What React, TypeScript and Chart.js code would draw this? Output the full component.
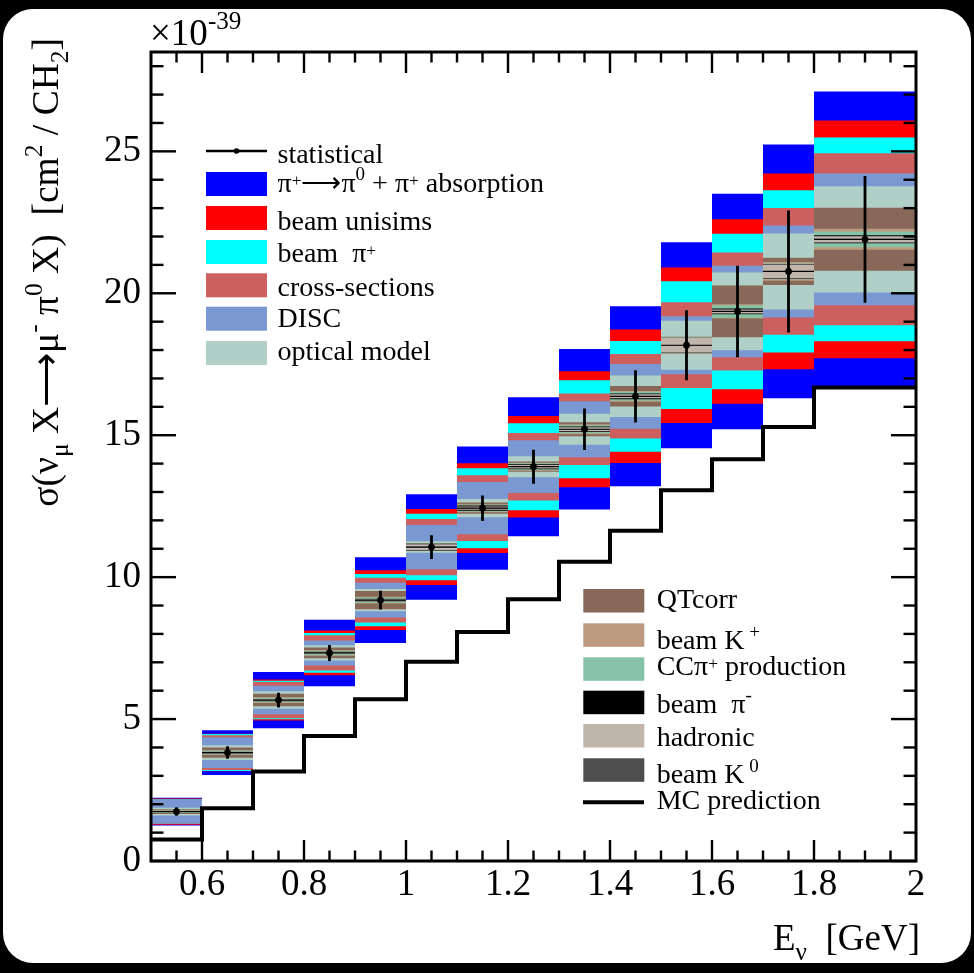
import React, { useEffect, useRef } from "react";
import { Chart, registerables } from "chart.js";

Chart.register(...registerables);

// ---------------- data ----------------
const binEdges = [0.5, 0.6, 0.7, 0.8, 0.9, 1.0, 1.1, 1.2, 1.3, 1.4, 1.5, 1.6, 1.7, 1.8, 2.0];
const crossSection = [1.74, 3.82, 5.67, 7.33, 9.19, 11.06, 12.43, 13.89, 15.21, 16.37, 18.17, 19.36, 20.77, 21.9];
const statError = [0.15, 0.22, 0.26, 0.28, 0.33, 0.42, 0.45, 0.6, 0.73, 0.92, 1.23, 1.61, 2.15, 2.23];
const mcPrediction = [0.76, 1.86, 3.15, 4.4, 5.7, 7.02, 8.07, 9.22, 10.54, 11.63, 13.06, 14.15, 15.29, 16.68];

// cumulative systematic half-widths (x1e-39), outermost first
const errPiAbsorption = [0.49, 0.79, 0.99, 1.17, 1.51, 1.86, 2.17, 2.45, 2.83, 3.17, 3.63, 4.15, 4.47, 5.21];
const errBeamUnisims = [0.46, 0.66, 0.72, 0.79, 1.05, 1.34, 1.58, 1.79, 2.04, 2.35, 2.74, 3.25, 3.45, 4.19];
const errBeamPiPlus = [0.44, 0.65, 0.68, 0.7, 0.92, 1.17, 1.41, 1.53, 1.73, 1.95, 2.25, 2.74, 2.86, 3.59];
const errCrossSections = [0.43, 0.61, 0.64, 0.62, 0.79, 0.99, 1.16, 1.19, 1.26, 1.49, 1.51, 2.08, 2.23, 3.03];
const errDISC = [0.42, 0.54, 0.5, 0.44, 0.61, 0.78, 0.92, 0.93, 0.99, 1.14, 1.02, 1.61, 1.62, 2.32];
const errOpticalModel = [0.14, 0.26, 0.31, 0.27, 0.39, 0.2, 0.32, 0.37, 0.55, 0.73, 0.86, 1.37, 1.34, 1.87];
const errQTcorr = [0.08, 0.18, 0.22, 0.19, 0.32, 0.14, 0.2, 0.18, 0.25, 0.36, 0.3, 0.91, 0.48, 1.11];
const errBeamKPlus = [0.05, 0.08, 0.1, 0.1, 0.12, 0.13, 0.14, 0.14, 0.18, 0.19, 0.29, 0.25, 0.33, 0.37];
const errCCPiPlus = [0.04, 0.07, 0.08, 0.08, 0.1, 0.125, 0.12, 0.12, 0.14, 0.16, 0.28, 0.22, 0.28, 0.28];
const errBeamPiMinus = [0.015, 0.03, 0.04, 0.04, 0.045, 0.12, 0.09, 0.09, 0.1, 0.1, 0.265, 0.1, 0.26, 0.14];
const errHadronic = [0.02, 0.035, 0.045, 0.045, 0.05, 0.1, 0.06, 0.06, 0.07, 0.07, 0.26, 0.07, 0.24, 0.11];
const errBeamK0 = [0.01, 0.01, 0.01, 0.01, 0.01, 0.01, 0.01, 0.01, 0.01, 0.01, 0.01, 0.01, 0.01, 0.02];

const xTickValues = [0.6, 0.8, 1.0, 1.2, 1.4, 1.6, 1.8, 2.0];
const xTickLabels = ["0.6", "0.8", "1", "1.2", "1.4", "1.6", "1.8", "2"];
const yTickValues = [0, 5, 10, 15, 20, 25];
const yTickLabels = ["0", "5", "10", "15", "20", "25"];

const bandLayers = [
  { name: "π+→π0 + π+ absorption", color: "#0000ff", err: errPiAbsorption },
  { name: "beam unisims", color: "#ff0000", err: errBeamUnisims },
  { name: "beam π+", color: "#00ffff", err: errBeamPiPlus },
  { name: "cross-sections", color: "#cd5f5f", err: errCrossSections },
  { name: "DISC", color: "#7a99d2", err: errDISC },
  { name: "optical model", color: "#b0cfc6", err: errOpticalModel },
  { name: "QTcorr", color: "#886959", err: errQTcorr },
  { name: "beam K+", color: "#be9b80", err: errBeamKPlus },
  { name: "CCπ+ production", color: "#86c2a6", err: errCCPiPlus },
  { name: "beam π-", color: "#000000", err: errBeamPiMinus },
  { name: "hadronic", color: "#c0b6ac", err: errHadronic },
  { name: "beam K0", color: "#4d4d4d", err: errBeamK0 },
];

const FONT = "'Liberation Serif', 'Times New Roman', serif";

function stepPoints(values: number[]) {
  return binEdges.map((e, i) => ({ x: e, y: values[Math.min(i, values.length - 1)] }));
}

function buildDatasets() {
  const ds: any[] = [];
  const centers = binEdges.slice(0, -1).map((lo, i) => (lo + binEdges[i + 1]) / 2);

  const statV: any[] = [];
  const statH: any[] = [];
  crossSection.forEach((v, i) => {
    statV.push({ x: centers[i], y: v - statError[i] });
    statV.push({ x: centers[i], y: v + statError[i] });
    statV.push({ x: centers[i], y: null });
    statH.push({ x: binEdges[i], y: v });
    statH.push({ x: binEdges[i + 1], y: v });
    statH.push({ x: binEdges[i + 1], y: null });
  });
  ds.push({
    label: "statistical",
    data: statV,
    borderColor: "#000",
    borderWidth: 2.8,
    pointRadius: 0,
    spanGaps: false,
    fill: false,
    order: 0,
  });
  ds.push({
    label: "statistical (bin)",
    data: statH,
    borderColor: "#000",
    borderWidth: 1.2,
    pointRadius: 0,
    spanGaps: false,
    fill: false,
    order: 0,
  });
  ds.push({
    label: "data",
    data: crossSection.map((v, i) => ({ x: centers[i], y: v })),
    showLine: false,
    pointRadius: 3.4,
    pointBackgroundColor: "#000",
    pointBorderWidth: 0,
    fill: false,
    order: 0,
  });
  ds.push({
    label: "MC prediction",
    data: stepPoints(mcPrediction),
    stepped: "before",
    borderColor: "#000",
    borderWidth: 4,
    pointRadius: 0,
    fill: false,
    order: 1,
  });

  bandLayers.forEach((layer, k) => {
    const lowerIndex = ds.length;
    ds.push({
      label: layer.name + " low",
      data: stepPoints(crossSection.map((v, i) => v - layer.err[i])),
      stepped: "before",
      borderColor: "rgba(0,0,0,0)",
      borderWidth: 0,
      pointRadius: 0,
      fill: false,
      order: 100 - k,
    });
    ds.push({
      label: layer.name,
      data: stepPoints(crossSection.map((v, i) => v + layer.err[i])),
      stepped: "before",
      borderColor: "rgba(0,0,0,0)",
      borderWidth: 0,
      pointRadius: 0,
      fill: lowerIndex,
      backgroundColor: layer.color,
      order: 100 - k,
    });
  });
  return ds;
}

const frameTicksPlugin = {
  id: "frameTicks",
  afterDraw(chart: any) {
    const { ctx, chartArea: a, scales } = chart;
    const xs = scales.x;
    const ys = scales.y;
    ctx.save();
    ctx.strokeStyle = "#000";
    ctx.lineCap = "butt";
    ctx.lineWidth = 2.4;
    const seg = (x1: number, y1: number, x2: number, y2: number) => {
      ctx.beginPath();
      ctx.moveTo(x1, y1);
      ctx.lineTo(x2, y2);
      ctx.stroke();
    };
    for (let i = 0; i <= 28; i++) {
      const py = ys.getPixelForValue(i);
      const len = i % 5 === 0 ? 25 : 12.5;
      seg(a.left, py, a.left + len, py);
      seg(a.right, py, a.right - len, py);
    }
    for (let i = 1; i < 30; i++) {
      const px = xs.getPixelForValue(0.5 + i * 0.05);
      const len = i % 4 === 2 ? 21 : 10.5;
      seg(px, a.bottom, px, a.bottom - len);
      seg(px, a.top, px, a.top + len);
    }
    ctx.lineWidth = 3;
    ctx.strokeRect(a.left, a.top, a.right - a.left, a.bottom - a.top);
    ctx.restore();
  },
};

type Kind = "n" | "sup" | "sub" | "sm";
type Part = [string, Kind];

function Rich(props: {
  x: number;
  y: number;
  size: number;
  parts: Part[];
  anchor?: string;
  transform?: string;
}) {
  const { x, y, size, parts, anchor, transform } = props;
  let cur = 0;
  const spans = parts.map(([t, k], i) => {
    let off = 0;
    let fs = size;
    if (k === "sup") {
      off = -0.42 * size;
      fs = 0.68 * size;
    } else if (k === "sub") {
      off = 0.27 * size;
      fs = 0.68 * size;
    } else if (k === "sm") {
      off = -0.22 * size;
      fs = 0.62 * size;
    }
    const dy = off - cur;
    cur = off;
    return (
      <tspan key={i} dy={dy} fontSize={fs}>
        {t}
      </tspan>
    );
  });
  return (
    <text
      x={x}
      y={y}
      fontFamily={FONT}
      fontSize={size}
      fill="#000"
      textAnchor={anchor || "start"}
      transform={transform}
      style={{ whiteSpace: "pre" }}
    >
      {spans}
    </text>
  );
}

const legend1 = [
  { color: "#0000ff", top: 172, base: 191.7, parts: [["π", "n"], ["+", "sm"], ["⟶π", "n"], ["0", "sup"], [" + π", "n"], ["+", "sm"], [" absorption", "n"]] as Part[] },
  { color: "#ff0000", top: 206, base: 230, parts: [["beam unisims", "n"]] as Part[] },
  { color: "#00ffff", top: 240, base: 261.7, parts: [["beam  π", "n"], ["+", "sm"]] as Part[] },
  { color: "#cd5f5f", top: 273.3, base: 295.7, parts: [["cross-sections", "n"]] as Part[] },
  { color: "#7a99d2", top: 306.7, base: 326.7, parts: [["DISC", "n"]] as Part[] },
  { color: "#b0cfc6", top: 341, base: 360, parts: [["optical model", "n"]] as Part[] },
];

const legend2 = [
  { color: "#886959", top: 589, base: 607.7, parts: [["QTcorr", "n"]] as Part[] },
  { color: "#be9b80", top: 623.3, base: 649.3, parts: [["beam K", "n"], [" +", "sup"]] as Part[] },
  { color: "#86c2a6", top: 657.3, base: 675, parts: [["CCπ", "n"], ["+", "sm"], [" production", "n"]] as Part[] },
  { color: "#000000", top: 690.7, base: 712.7, parts: [["beam  π", "n"], ["-", "sup"]] as Part[] },
  { color: "#c0b6ac", top: 724, base: 745.7, parts: [["hadronic", "n"]] as Part[] },
  { color: "#4d4d4d", top: 758.3, base: 783.3, parts: [["beam K", "n"], [" 0", "sup"]] as Part[] },
];

export default function App() {
  const canvasRef = useRef<HTMLCanvasElement>(null);

  useEffect(() => {
    const canvas = canvasRef.current;
    if (!canvas) return;
    const chart = new Chart(canvas, {
      type: "line",
      data: { datasets: buildDatasets() },
      options: {
        animation: false,
        responsive: false,
        maintainAspectRatio: false,
        devicePixelRatio: 1,
        events: [],
        layout: { padding: { left: 8, top: 52, right: 58, bottom: 0 } },
        plugins: { legend: { display: false }, tooltip: { enabled: false } },
        scales: {
          x: {
            type: "linear",
            min: 0.5,
            max: 2.0,
            grid: { display: false, drawTicks: false },
            border: { display: false },
            afterBuildTicks: (s: any) => {
              s.ticks = xTickValues.map((v) => ({ value: v }));
            },
            afterFit: (s: any) => {
              s.height = 112;
            },
            ticks: {
              color: "#000",
              font: { family: FONT, size: 37 },
              padding: 2,
              maxRotation: 0,
              minRotation: 0,
              autoSkip: false,
              callback: (_v: any, i: number) => xTickLabels[i],
            },
          },
          y: {
            type: "linear",
            min: 0,
            max: 28.5,
            grid: { display: false, drawTicks: false },
            border: { display: false },
            afterBuildTicks: (s: any) => {
              s.ticks = yTickValues.map((v) => ({ value: v }));
            },
            afterFit: (s: any) => {
              s.width = 143;
            },
            ticks: {
              color: "#000",
              font: { family: FONT, size: 37 },
              padding: 10,
              autoSkip: false,
              callback: (_v: any, i: number) => yTickLabels[i],
            },
          },
        },
      } as any,
      plugins: [frameTicksPlugin],
    } as any);
    return () => chart.destroy();
  }, []);

  return (
    <div
      style={{
        position: "absolute",
        left: 0,
        top: 0,
        width: 974,
        height: 973,
        background: "#000",
        overflow: "hidden",
      }}
    >
      <div
        style={{
          position: "absolute",
          left: 3,
          top: 9,
          width: 968,
          height: 954,
          borderRadius: 30,
          background: "#fff",
        }}
      />
      <canvas
        ref={canvasRef}
        width={974}
        height={973}
        style={{ position: "absolute", left: 0, top: 0, width: 974, height: 973 }}
      />
      <svg
        width={974}
        height={973}
        style={{ position: "absolute", left: 0, top: 0, pointerEvents: "none" }}
      >
        <Rich x={150} y={45} size={37} parts={[["×10", "n"], ["-39", "sup"]]} />
        <Rich
          x={0}
          y={0}
          size={37.5}
          anchor="end"
          transform="translate(58,38) rotate(-90)"
          parts={[
            ["σ(ν", "n"],
            ["μ", "sub"],
            [" X⟶μ", "n"],
            ["-", "sup"],
            [" π", "n"],
            ["0", "sup"],
            [" X)  [cm", "n"],
            ["2", "sup"],
            [" / CH", "n"],
            ["2", "sub"],
            ["]", "n"],
          ]}
        />
        <Rich x={920} y={950} size={37} anchor="end" parts={[["E", "n"], ["ν", "sub"], ["  [GeV]", "n"]]} />

        <line x1={206} y1={151} x2={267} y2={151} stroke="#000" strokeWidth={2.5} />
        <circle cx={236.5} cy={151} r={2.8} fill="#000" />
        <Rich x={277.5} y={162.5} size={28} parts={[["statistical", "n"]]} />
        {legend1.map((e, i) => (
          <g key={"l1" + i}>
            <rect x={206} y={e.top} width={61} height={24} fill={e.color} />
            <Rich x={277.5} y={e.base} size={28} parts={e.parts} />
          </g>
        ))}

        {legend2.map((e, i) => (
          <g key={"l2" + i}>
            <rect x={583.3} y={e.top} width={61} height={23.5} fill={e.color} />
            <Rich x={656.7} y={e.base} size={28} parts={e.parts} />
          </g>
        ))}
        <line x1={583} y1={802.3} x2={644} y2={802.3} stroke="#000" strokeWidth={4} />
        <Rich x={656.7} y={809.3} size={28} parts={[["MC prediction", "n"]]} />
      </svg>
    </div>
  );
}
